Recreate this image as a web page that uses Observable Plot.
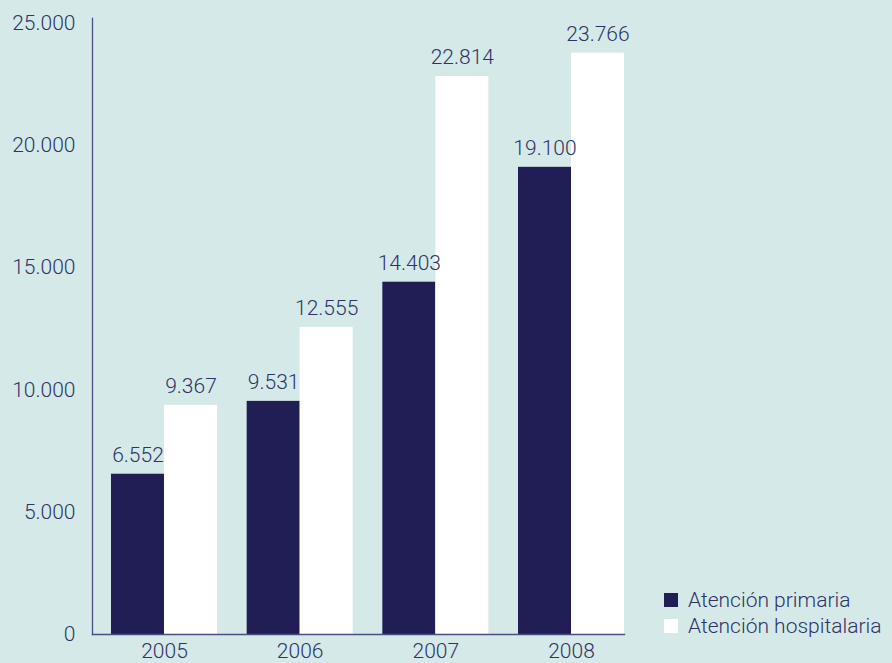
<!DOCTYPE html>
<html>
<head>
<meta charset="utf-8">
<script src="https://cdn.jsdelivr.net/npm/d3@7"></script>
<script src="https://cdn.jsdelivr.net/npm/@observablehq/plot@0.6"></script>
<style>
  html, body { margin: 0; padding: 0; background: #d5eae8; }
  #wrap { position: relative; width: 892px; height: 663px; font-family: Roboto, "Noto Sans", sans-serif; font-weight: 300; color: #2e3366; }
  .legend { position: absolute; left: 664px; top: 587px; font-size: 21px; line-height: 26px; }
  .legend div { display: flex; align-items: center; height: 26px; }
  .legend span.sw { display: inline-block; width: 14px; height: 14px; margin-right: 10px; }
  svg text { font-weight: 300; }
</style>
</head>
<body>
<div id="wrap"></div>
<script>
const years = ["2005", "2006", "2007", "2008"];
const primaria = [6552, 9531, 14403, 19100];
const hospitalaria = [9367, 12555, 22814, 23766];
const seriesNames = ["Atención primaria", "Atención hospitalaria"];
const yTicks = [0, 5000, 10000, 15000, 20000, 25000];

const darkColor = "#201e54";
const lightColor = "#ffffff";
const textColor = "#2e3366";
const axisColor = "#4a4f80";

const fmt = d3.formatLocale({decimal: ",", thousands: ".", grouping: [3], currency: ["", "€"]}).format(",d");
const data = years.map((year, i) => ({year, primaria: primaria[i], hospitalaria: hospitalaria[i]}));

const chart = Plot.plot({
  width: 892,
  height: 663,
  marginLeft: 92,
  marginRight: 268,
  marginTop: 18,
  marginBottom: 29,
  style: {background: "#d5eae8", fontFamily: "Roboto, 'Noto Sans', sans-serif", fontSize: "21px", color: textColor, overflow: "visible"},
  x: {domain: years, paddingInner: 0.2187, paddingOuter: 0.07, align: 1, round: false, label: null, tickSize: 0, tickPadding: 9},
  y: {domain: [0, 25000], range: [634, 22.5], ticks: yTicks, tickFormat: fmt, label: null, tickSize: 0, tickPadding: 17},
  marks: [
    Plot.barY(data, {x: "year", y: "primaria", fill: darkColor, insetRight: 53}),
    Plot.barY(data, {x: "year", y: "hospitalaria", fill: lightColor, insetLeft: 53}),
    Plot.text(data, {x: "year", y: "primaria", text: d => fmt(d.primaria), dx: -26.5, dy: -19, lineAnchor: "middle", fill: textColor}),
    Plot.text(data, {x: "year", y: "hospitalaria", text: d => fmt(d.hospitalaria), dx: 26.5, dy: -19, lineAnchor: "middle", fill: textColor}),
    Plot.frame({anchor: "left", stroke: axisColor, strokeWidth: 1.3}),
    Plot.frame({anchor: "bottom", stroke: axisColor, strokeWidth: 1.3})
  ]
});
const wrap = document.getElementById("wrap");
wrap.appendChild(chart);

const legend = document.createElement("div");
legend.className = "legend";
[darkColor, lightColor].forEach((c, i) => {
  const row = document.createElement("div");
  const sw = document.createElement("span");
  sw.className = "sw";
  sw.style.background = c;
  row.appendChild(sw);
  row.appendChild(document.createTextNode(seriesNames[i]));
  legend.appendChild(row);
});
wrap.appendChild(legend);
</script>
</body>
</html>
